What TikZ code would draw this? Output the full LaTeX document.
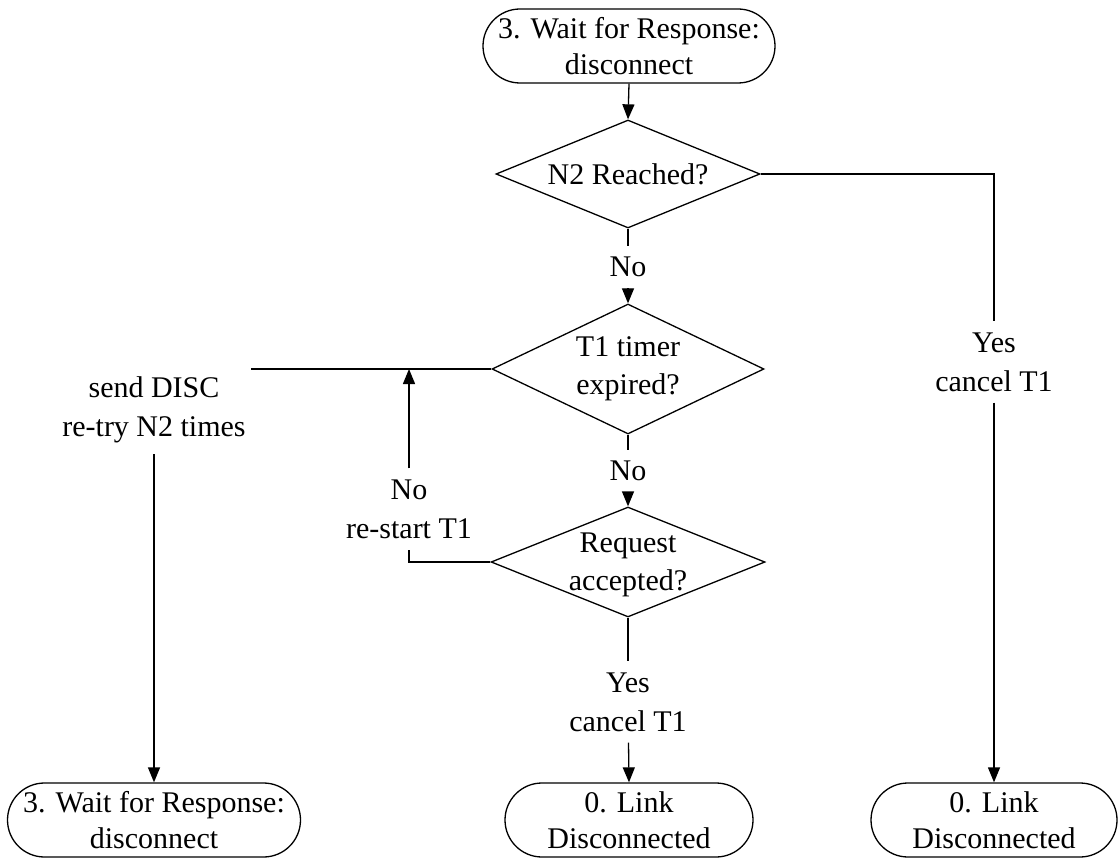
\documentclass[tikz,border=0pt]{standalone}
\usepackage{fontspec}
\setmainfont{Liberation Serif}
\usetikzlibrary{shapes.geometric,arrows.meta}

\tikzset{
  flow/.style={line width=1.3pt},
  arr/.style={flow,-{Triangle[length=15pt,width=12pt]}},
  statebox/.style={draw,line width=1.3pt,rectangle,rounded corners=37pt,
    minimum height=74pt,inner sep=0pt,align=center,
    font=\fontsize{30}{36}\selectfont},
  decision/.style={draw,line width=1.3pt,diamond,inner sep=0pt},
  qtext/.style={align=center,inner sep=0pt,font=\fontsize{30}{38}\selectfont},
  lbl/.style={align=center,inner xsep=4pt,inner ysep=11pt,
    font=\fontsize{30}{39}\selectfont}
}

\begin{document}
\begin{tikzpicture}[x=1pt,y=-1pt]
\useasboundingbox (0,0) rectangle (1118,858);

% states
\node[statebox,minimum width=292pt] (top) at (629,46) {3. Wait for Response:\\disconnect};
\node[statebox,minimum width=293pt] (waitL) at (154,820) {3. Wait for Response:\\disconnect};
\node[statebox,minimum width=248pt] (linkM) at (629,820) {0. Link\\Disconnected};
\node[statebox,minimum width=246pt] (linkR) at (994,820) {0. Link\\Disconnected};

% decisions
\node[decision,minimum width=264pt,minimum height=108pt] (d1) at (628,174) {};
\node[qtext] (q1) at (d1) {N2 Reached?};
\node[decision,minimum width=272pt,minimum height=130pt] (d2) at (628,369) {};
\node[qtext] (q2) at (d2) {T1 timer\\expired?};
\node[decision,minimum width=274pt,minimum height=110pt] (d3) at (628,562) {};
\node[qtext] (q3) at ([yshift=-3pt]d3.center) {Request\\accepted?};

% branch labels
\node[lbl] (no1) at (628,267) {No};
\node[lbl] (no2) at (628,471) {No};
\node[lbl] (yesM) at (628,702) {Yes\\cancel T1};
\node[lbl] (yesR) at (994,362) {Yes\\cancel T1};
\node[lbl] (restart) at (409,509) {No\\re-start T1};
\node[lbl] (send) at (154,410) {send DISC\\re-try N2 times};
\coordinate (sendEnd) at (251,369);

% connectors
\draw[arr] (top.south) -- (d1.north);
\draw[flow] (d1.south) -- (no1);
\draw[arr] (no1) -- (d2.north);
\draw[flow] (d2.south) -- (no2);
\draw[arr] (no2) -- (d3.north);
\draw[flow] (d3.south) -- (yesM);
\draw[arr] (yesM) -- (linkM.north);
\draw[flow] (d1.east) -| (yesR);
\draw[arr] (yesR) -- (linkR.north);
\draw[flow] (d2.west) -- (sendEnd);
\draw[arr] (send) -- (waitL.north);
\draw[flow] (d3.west) -| (restart);
\draw[arr] (restart) -- (restart |- d2.west);
\end{tikzpicture}
\end{document}
